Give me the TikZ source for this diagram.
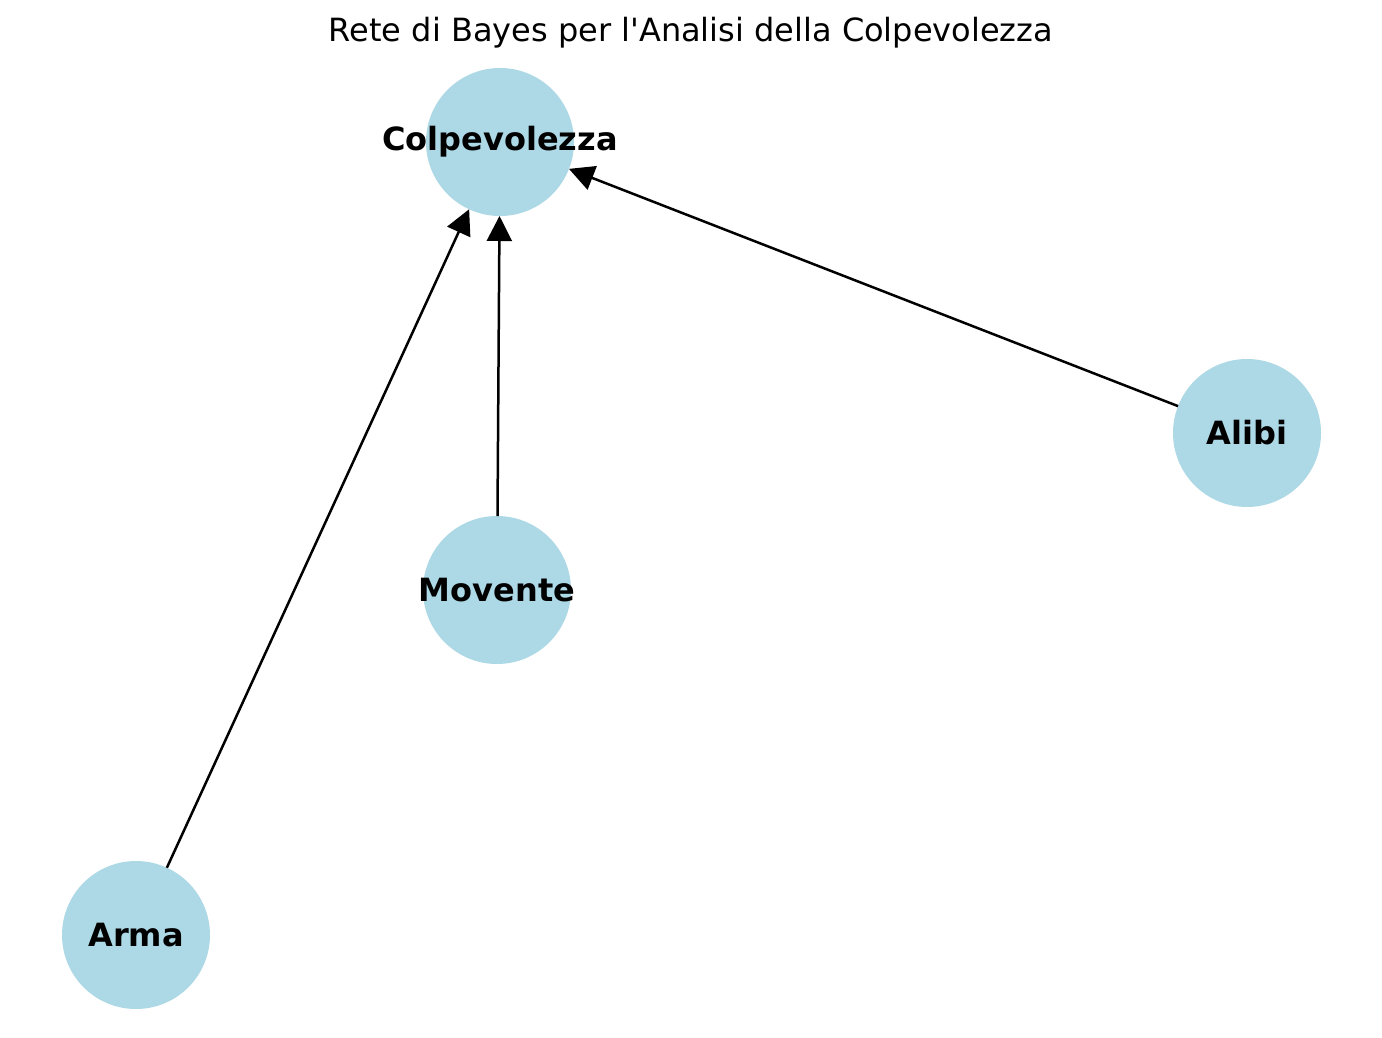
\documentclass[tikz,border=0pt]{standalone}
\usepackage{fontspec}
\setmainfont{DejaVu Sans}
\usetikzlibrary{arrows.meta}
\definecolor{nodeblue}{HTML}{ADD8E6}
\begin{document}
\begin{tikzpicture}[x=1pt,y=-1pt,
  bnode/.style={circle,fill=nodeblue,minimum size=148pt,inner sep=0pt,outer sep=0pt,font=\fontsize{32}{38}\selectfont\bfseries},
  edge/.style={line width=2.5pt,-{Triangle[length=25pt,width=25pt]}}]
\useasboundingbox (0,0) rectangle (1382,1038);
\fill[white] (0,0) rectangle (1382,1038);
\node (title) at (691,33) {\fontsize{32}{38}\selectfont Rete di Bayes per l\textquotesingle Analisi della Colpevolezza};
\node[bnode] (c) at (500,142) {\makebox[0pt]{\raisebox{-3pt}{Colpevolezza}}};
\node[bnode] (alibi) at (1247,433) {\makebox[0pt]{Alibi}};
\node[bnode] (mov) at (497,590) {\makebox[0pt]{Movente}};
\node[bnode] (arma) at (136,935) {\makebox[0pt]{Arma}};
\draw[edge] (alibi) -- (c);
\draw[edge] (mov) -- (c);
\draw[edge] (arma) -- (c);
\end{tikzpicture}
\end{document}
